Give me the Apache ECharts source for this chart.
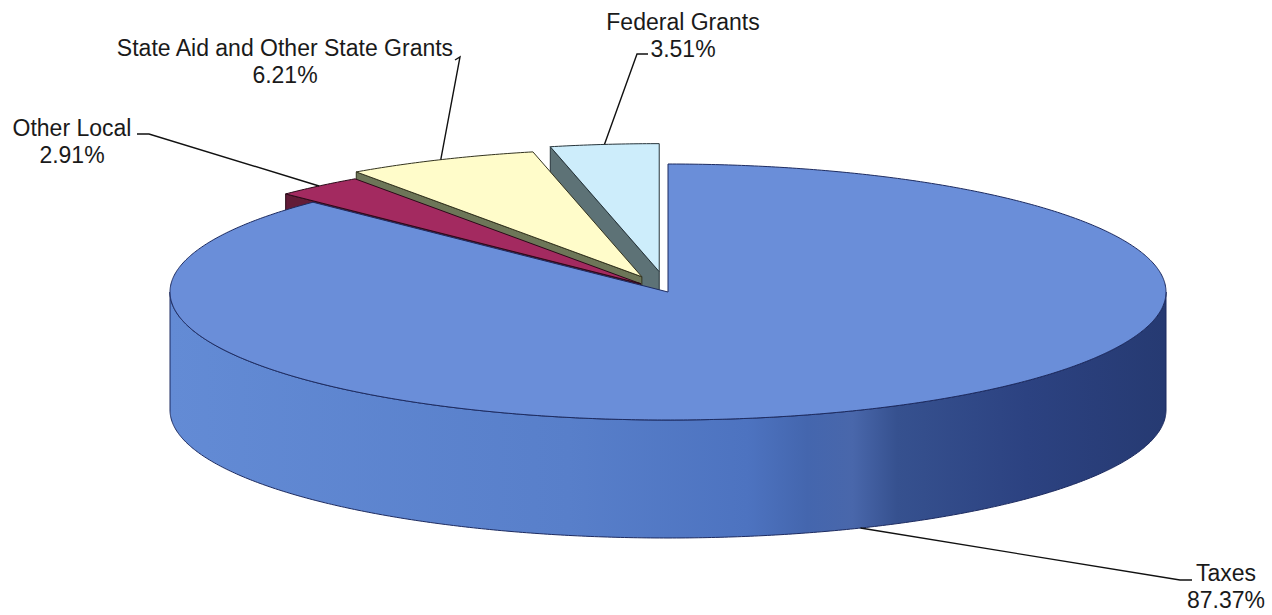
<!DOCTYPE html>
<html><head><meta charset="utf-8">
<script src="https://cdn.jsdelivr.net/npm/echarts@6/dist/echarts.min.js"></script>
<style>html,body{margin:0;padding:0;background:#fff}#chart{width:1272px;height:615px}</style>
</head><body><div id="chart"></div>
<script>
// ---- data ----
const categories = ['Taxes', 'Other Local', 'State Aid and Other State Grants', 'Federal Grants'];
const values = [87.37, 2.91, 6.21, 3.51];

// ---- layout / style ----
const geom = {cx: 668, cy: 292, rx: 498, ry: 128, depth: 118};
const explode = [0, 0.085, 0.13, 0.16];
const topColors = ['#6a8ed9', '#a32a60', '#fffcca', '#cdedfb'];
const cutColors = ['#3a5aa0', '#621c38', '#6d7658', '#5d7276'];
const edgeColors = ['#1d2b60', '#2a0a18', '#33331f', '#26343a'];
const labelLayout = [
  {x: 1226, y: 586, knee: [[1180, 580], [1192, 580]]},
  {x: 72, y: 141, knee: [[149, 134], [137, 134]]},
  {x: 285, y: 61, knee: [[460, 57], [455, 60]]},
  {x: 683, y: 35, knee: [[637, 54], [648, 54]]}
];

const rad = d => d * Math.PI / 180;
const total = values.reduce((a, b) => a + b, 0);
function sliceAngles(i) {
  let before = 0;
  for (let k = 0; k < i; k++) before += values[k];
  const a0 = before / total * 360, a1 = (before + values[i]) / total * 360;
  return {a0, a1, mid: (a0 + a1) / 2};
}

function renderItem(params, api) {
  const i = params.dataIndex;
  const v = api.value(0);
  const {a0, mid} = sliceAngles(i);
  const a1 = a0 + v / total * 360;
  const f = explode[i];
  const ox = geom.rx * f * Math.sin(rad(mid));
  const oy = -geom.ry * f * Math.cos(rad(mid));
  const P = (t, dz) => [geom.cx + geom.rx * Math.sin(rad(t)) + ox,
                        geom.cy - geom.ry * Math.cos(rad(t)) + oy + (dz || 0)];
  const apex = [geom.cx + ox, geom.cy + oy];
  const apexB = [apex[0], apex[1] + geom.depth];
  const arc = (s, e, dz) => {
    const pts = [];
    const n = Math.max(2, Math.ceil(Math.abs(e - s) / 0.5));
    for (let k = 0; k <= n; k++) pts.push(P(s + (e - s) * k / n, dz));
    return pts;
  };
  // depth rank: slices further back drawn first
  let rank = 0;
  const myCos = Math.cos(rad(mid));
  for (let k = 0; k < values.length; k++) {
    if (k !== i && Math.cos(rad(sliceAngles(k).mid)) > myCos) rank++;
  }
  const zb = rank * 10;
  const children = [];
  const edge = {stroke: edgeColors[i], lineWidth: 1, lineJoin: 'round'};
  // start cut face
  if (Math.sin(rad(a0)) < -1e-6) {
    children.push({type: 'polygon', z2: zb + 1,
      shape: {points: [apex, P(a0), P(a0, geom.depth), apexB]},
      style: Object.assign({fill: cutColors[i]}, edge)});
  }
  // end cut face
  if (Math.sin(rad(a1)) > 1e-6) {
    children.push({type: 'polygon', z2: zb + 1,
      shape: {points: [apex, P(a1), P(a1, geom.depth), apexB]},
      style: Object.assign({fill: cutColors[i]}, edge)});
  }
  // outer wall (front half only)
  const ws = Math.max(a0, 90), we = Math.min(a1, 270);
  if (we > ws) {
    const pts = arc(ws, we, 0).concat(arc(we, ws, geom.depth));
    children.push({type: 'polygon', z2: zb + 2,
      shape: {points: pts},
      style: Object.assign({
        fill: new echarts.graphic.LinearGradient(0, 0, 1, 0, [
          {offset: 0, color: '#638bd5'},
          {offset: 0.4, color: '#587fca'},
          {offset: 0.58, color: '#4d73c0'},
          {offset: 0.64, color: '#4466ae'},
          {offset: 0.685, color: '#4967ab'},
          {offset: 0.73, color: '#36518f'},
          {offset: 0.86, color: '#2c4281'},
          {offset: 1, color: '#263a72'}
        ])
      }, edge)});
  }
  // top face
  children.push({type: 'polygon', z2: zb + 3,
    shape: {points: [apex].concat(arc(a0, a1, 0))},
    style: Object.assign({fill: topColors[i]}, edge)});
  // leader line + label
  const L = labelLayout[i];
  const anchor = myCos < 0 ? P(mid, geom.depth) : P(mid, 0);
  children.push({type: 'polyline', z2: 100,
    shape: {points: [anchor].concat(L.knee)},
    style: {stroke: '#111', lineWidth: 1.4, fill: null}});
  children.push({type: 'text', z2: 101,
    style: {
      text: categories[i] + '\n' + values[i].toFixed(2) + '%',
      x: L.x, y: L.y, align: 'center', verticalAlign: 'middle',
      fontSize: 23, lineHeight: 27,
      fontFamily: '"Liberation Sans", Arial, sans-serif',
      fill: '#1a1a1a'
    }});
  return {type: 'group', children};
}

const chart = echarts.init(document.getElementById('chart'), null, {renderer: 'svg'});
chart.setOption({
  backgroundColor: '#fff',
  animation: false,
  series: [{
    type: 'custom',
    coordinateSystem: 'none',
    silent: true,
    renderItem,
    data: values.map((v, i) => ({name: categories[i], value: [v]}))
  }]
});
</script>
</body></html>
